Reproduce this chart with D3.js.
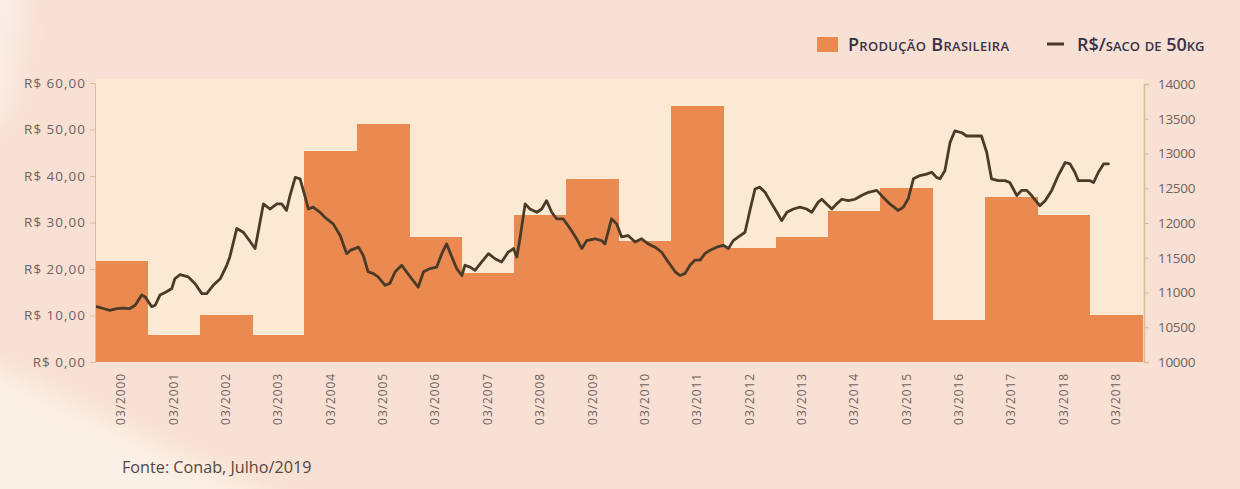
<!DOCTYPE html>
<html><head><meta charset="utf-8">
<script src="https://cdn.jsdelivr.net/npm/d3@7"></script>
<style>
html,body{margin:0;padding:0;background:#f8e0d4;}
svg{display:block;}
</style></head>
<body>
<svg id="chart" width="1240" height="489"></svg>
<script>
// ---------- DATA ----------
const categories = ["03/2000","03/2001","03/2002","03/2003","03/2004","03/2005","03/2006","03/2007","03/2008","03/2009",
  "03/2010","03/2011","03/2012","03/2013","03/2014","03/2015","03/2016","03/2017","03/2018","03/2018"];
// Produção brasileira (right axis)
const production = [11450,10390,10680,10390,13040,13420,11800,11280,12110,12630,
  11740,13690,11640,11800,12170,12510,10610,12370,12110,10680];
// R$/saco de 50kg (left axis) — month index from start of series
const priceMonths = [0.4,1.9,3.4,5.0,6.5,8.0,9.2,10.7,11.5,13.0,13.8,14.9,16.4,17.6,18.3,19.5,21.4,22.9,24.5,25.6,
  27.1,28.7,30.2,30.9,32.5,34.0,35.1,36.7,38.6,40.1,41.7,42.8,43.9,44.7,45.9,47.0,48.1,48.9,50.0,51.6,
  52.7,54.6,56.2,57.7,58.5,60.4,61.5,62.6,63.8,64.9,66.5,67.6,68.8,70.3,71.4,72.6,74.1,75.3,76.8,78.3,
  79.5,80.6,81.8,82.9,84.1,84.8,86.0,87.1,88.6,90.2,91.7,93.2,94.7,95.9,96.7,97.4,98.6,99.7,101.3,102.4,
  103.5,104.7,105.8,107.3,108.9,110.4,111.6,112.7,114.6,116.1,116.9,118.4,119.6,120.7,122.2,123.8,125.3,126.8,128.4,129.9,
  131.4,133.0,134.1,135.2,136.4,137.5,138.7,139.8,140.9,142.5,144.0,145.2,146.3,147.5,149.0,150.2,151.3,152.4,153.6,154.7,
  156.3,157.4,158.6,160.1,161.6,163.1,164.3,165.8,166.6,167.7,168.9,170.0,171.2,172.7,174.2,175.7,177.3,179.2,180.7,182.2,
  184.1,185.3,186.4,187.6,189.1,190.6,191.8,192.9,193.7,194.8,196.0,197.1,198.7,199.8,201.3,203.2,204.4,205.5,207.1,208.6,
  209.7,211.3,212.4,213.6,214.7,215.9,216.6,217.8,219.3,220.8,222.4,223.5,224.6,225.4,227.0,228.1,228.9,230.0,231.2,232.3];
const priceValues = [11.9,11.5,11.1,11.5,11.6,11.5,12.2,14.4,14.0,11.9,12.2,14.4,15.1,15.8,17.9,18.8,18.3,16.9,14.7,14.7,
  16.5,17.9,20.8,22.6,28.7,27.9,26.5,24.4,34.0,32.9,34.0,34.0,32.6,35.8,39.7,39.4,35.8,32.9,33.3,32.2,
  31.1,29.7,27.2,23.3,24.0,24.7,22.9,19.4,19.0,18.3,16.5,16.9,19.4,20.8,19.4,17.9,16.1,19.4,20.1,20.4,
  23.3,25.4,22.6,20.1,18.6,20.8,20.4,19.7,21.5,23.3,22.2,21.5,23.6,24.4,22.6,26.5,34.0,32.9,32.2,32.9,
  34.7,32.2,30.8,30.8,28.7,26.5,24.4,26.1,26.5,26.1,25.4,30.8,29.7,26.9,27.2,25.8,26.5,25.4,24.7,23.6,
  21.5,19.4,18.6,19.0,20.8,21.9,21.9,23.3,24.0,24.7,25.1,24.4,26.1,26.9,27.9,32.9,37.2,37.6,36.5,34.7,
  32.2,30.4,32.2,32.9,33.3,32.9,32.2,34.4,35.0,34.0,32.9,34.0,35.0,34.7,35.0,35.8,36.5,36.9,35.4,34.0,
  32.6,33.3,35.1,39.4,40.1,40.4,40.8,39.7,39.4,41.1,47.2,49.7,49.3,48.6,48.6,48.6,45.1,39.4,39.0,39.0,
  38.6,35.8,36.9,36.9,35.8,34.4,33.6,34.7,36.9,40.1,42.9,42.6,40.8,39.0,39.0,39.0,38.6,40.8,42.6,42.6];
const leftTicks = [0,10,20,30,40,50,60];
const leftTickLabels = ["R$ 0,00","R$ 10,00","R$ 20,00","R$ 30,00","R$ 40,00","R$ 50,00","R$ 60,00"];
const rightTicks = [10000,10500,11000,11500,12000,12500,13000,13500,14000];
const legendLabels = ["Produção Brasileira","R$/saco de 50kg"];
const sourceText = "Fonte: Conab, Julho/2019";

// ---------- LAYOUT ----------
(function(){
const svg = d3.select("#chart");
const W = 1240, H = 489;
const pL = 95, pR = 1143, pT = 79, pB = 362;
const font = "'Open Sans', 'Noto Sans', sans-serif";

const defs = svg.append("defs");
const blur = defs.append("filter").attr("id","blur").attr("x","-50%").attr("y","-50%").attr("width","200%").attr("height","200%");
blur.append("feGaussianBlur").attr("stdDeviation", 14);

svg.append("rect").attr("width",W).attr("height",H).attr("fill","#f8e0d4");
svg.append("path").attr("d","M-40,350 L-40,540 L360,540 Z").attr("fill","#fcf1e6").attr("filter","url(#blur)");
svg.append("path").attr("d","M-40,-40 L30,-40 L8,120 L-40,140 Z").attr("fill","#fbeee6").attr("filter","url(#blur)");

svg.append("rect").attr("x",pL).attr("y",pT).attr("width",pR-pL).attr("height",pB-pT).attr("fill","#fbe9d3");

const x = d3.scaleBand().domain(d3.range(categories.length)).range([pL, 1142]).paddingInner(0).paddingOuter(0);
const xm = d3.scaleLinear().domain([0, categories.length*12]).range([pL, 1142]);
const yR = d3.scaleLinear().domain([10000,14000]).range([pB, 84]);
const yL = d3.scaleLinear().domain([0,60]).range([pB, 83]);

// bars
svg.append("g").attr("shape-rendering","crispEdges").selectAll("rect").data(production).join("rect")
  .attr("x",(d,i)=>x(i)).attr("width",x.bandwidth()+0.6)
  .attr("y",d=>yR(d)).attr("height",d=>pB-yR(d))
  .attr("fill","#ea8a50");

// line
const priceData = priceMonths.map((m,i)=>({m, v: priceValues[i]}));
svg.append("path").datum(priceData)
  .attr("d", d3.line().x(d=>xm(d.m)).y(d=>yL(d.v)))
  .attr("fill","none").attr("stroke","#4a3b29").attr("stroke-width",2.8)
  .attr("stroke-linejoin","round").attr("stroke-linecap","round");

const axisColor = "#dcbc98", textColor = "#6e6360";

// left axis
const gL = svg.append("g").attr("transform",`translate(${pL},0)`)
  .call(d3.axisLeft(yL).tickValues(leftTicks).tickFormat((d,i)=>leftTickLabels[i]).tickSize(5).tickPadding(4));
gL.select(".domain").attr("stroke",axisColor);
gL.selectAll(".tick line").attr("stroke",axisColor);
gL.selectAll("text").attr("fill",textColor).style("font-family",font).style("font-size","13.5px").style("letter-spacing","1px");

// right axis
const gR = svg.append("g").attr("transform",`translate(${pR+1},0)`)
  .call(d3.axisRight(yR).tickValues(rightTicks).tickFormat(d3.format("d")).tickSize(5).tickPadding(9));
gR.select(".domain").attr("stroke",axisColor).attr("stroke-width",1.5);
gR.selectAll(".tick line").attr("stroke",axisColor);
gR.selectAll("text").attr("fill",textColor).style("font-family",font).style("font-size","13.5px").style("letter-spacing","-0.3px");

// x axis
const gX = svg.append("g").attr("transform",`translate(0,${pB})`)
  .call(d3.axisBottom(x).tickFormat(i=>categories[i]).tickSize(0));
gX.select(".domain").remove();
gX.selectAll("text")
  .attr("transform","rotate(-90)").attr("text-anchor","end")
  .attr("x",-11).attr("y",0).attr("dy","0.35em")
  .attr("fill",textColor).style("font-family",font).style("font-size","12px").style("letter-spacing","0.9px");

// legend
const lg = svg.append("g").style("font-family",font).style("font-weight","600")
  .style("font-variant","small-caps").attr("fill","#3a3247");
lg.append("rect").attr("x",817).attr("y",37).attr("width",21).attr("height",15).attr("fill","#ea8a50");
lg.append("text").attr("x",848).attr("y",51).text(legendLabels[0]).style("font-size","18px").style("letter-spacing","0.3px");
lg.append("line").attr("x1",1047).attr("x2",1064).attr("y1",44).attr("y2",44).attr("stroke","#4a3b29").attr("stroke-width",3);
lg.append("text").attr("x",1077).attr("y",51).text(legendLabels[1]).style("font-size","18px").style("letter-spacing","0px");

// source
svg.append("text").attr("x",122).attr("y",473).text(sourceText)
  .attr("fill","#54463f").style("font-family",font).style("font-size","16.2px");
})();
</script>
</body></html>
